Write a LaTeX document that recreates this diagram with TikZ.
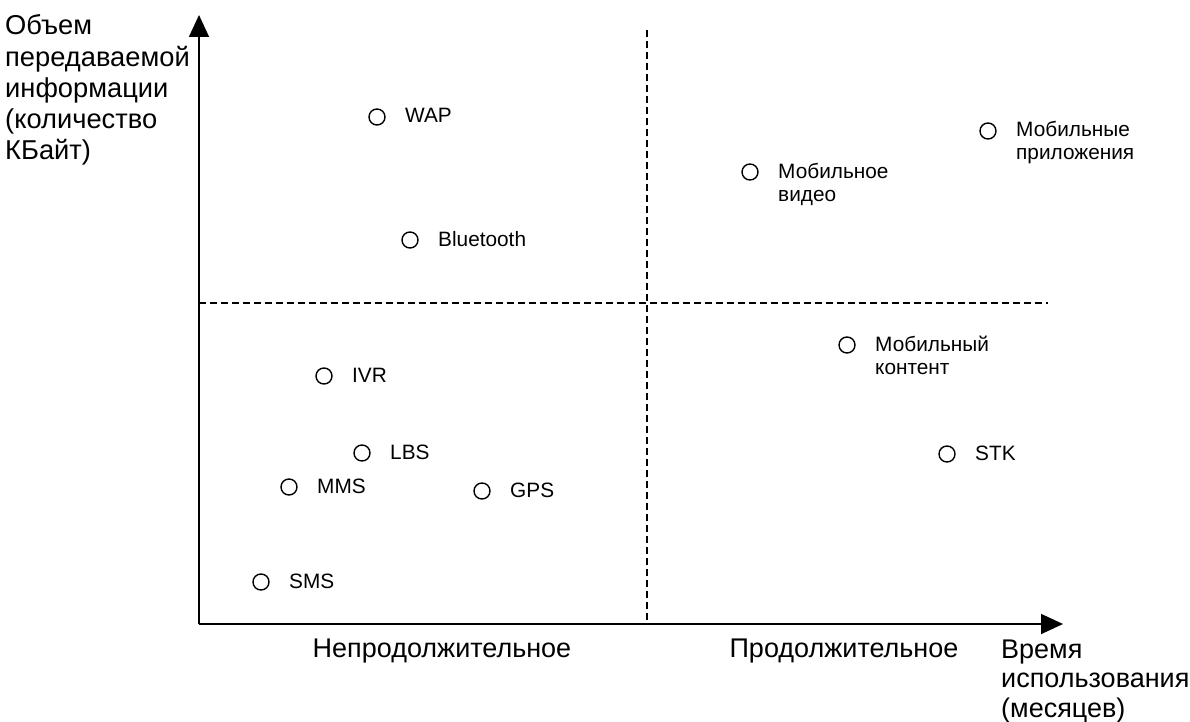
\documentclass[tikz,border=0pt]{standalone}
\usepackage{fontspec}
\setmainfont{Liberation Sans}
\usetikzlibrary{arrows.meta,calc}
\begin{document}
\begin{tikzpicture}[x=1pt,y=-1pt,
  pt/.style={circle,draw,line width=1.4pt,minimum size=16pt,inner sep=0pt},
  lbl/.style={font=\fontsize{20.8}{23}\selectfont,anchor=base west,align=left,inner sep=0pt},
  axlbl/.style={font=\fontsize{27}{31}\selectfont,inner sep=0pt},
  axis/.style={line width=1.6pt,-{Triangle[length=22pt,width=20pt]}},
  divider/.style={line width=1.2pt,dash pattern=on 7pt off 4pt}]
\useasboundingbox (0,0) rectangle (1190,722);
\coordinate (O) at (199,624);
\coordinate (Xend) at (1063,624);
\coordinate (Yend) at (199,15);
\coordinate (vtop) at (647,30);
\coordinate (vbot) at (647,624);
\coordinate (hl) at (199,303);
\coordinate (hr) at (1048,303);
\draw[divider] (vtop) -- (vbot);
\draw[divider] (hl) -- (hr);
\draw[axis] (O) -- (Xend);
\draw[axis] (O) -- (Yend);
% points
\node[pt] (wap) at (377,117) {};
\node[pt] (bt) at (410,240) {};
\node[pt] (ivr) at (324,376) {};
\node[pt] (lbs) at (362,453) {};
\node[pt] (mms) at (289,487) {};
\node[pt] (gps) at (482,491) {};
\node[pt] (sms) at (261,582) {};
\node[pt] (vid) at (750,172) {};
\node[pt] (app) at (988,131) {};
\node[pt] (cnt) at (847,345) {};
\node[pt] (stk) at (947,454) {};
\node[lbl] (wapL) at ($(wap)+(28,6)$) {WAP};
\node[lbl] (btL) at ($(bt)+(28,6)$) {Bluetooth};
\node[lbl] (ivrL) at ($(ivr)+(28,6)$) {IVR};
\node[lbl] (lbsL) at ($(lbs)+(28,6)$) {LBS};
\node[lbl] (mmsL) at ($(mms)+(28,6)$) {MMS};
\node[lbl] (gpsL) at ($(gps)+(28,6)$) {GPS};
\node[lbl] (smsL) at ($(sms)+(28,6)$) {SMS};
\node[lbl] (vidL) at ($(vid)+(28,29)$) {Мобильное\\видео};
\node[lbl] (appL) at ($(app)+(28,29)$) {Мобильные\\приложения};
\node[lbl] (cntL) at ($(cnt)+(28,29)$) {Мобильный\\контент};
\node[lbl] (stkL) at ($(stk)+(28,6)$) {STK};
% axis labels (base anchor = baseline of last line)
\node[axlbl,anchor=base west,align=left,font=\fontsize{27.3}{31.3}\selectfont] (ylab) at (5,160) {Объем\\передаваемой\\информации\\(количество\\КБайт)};
\node[axlbl,anchor=base] (short) at (442,657) {Непродолжительное};
\node[axlbl,anchor=base] (long) at (844,657) {Продолжительное};
\node[axlbl,anchor=base west,align=left,font=\fontsize{27}{29.5}\selectfont] (xlab) at (1001,717) {Время\\использования\\(месяцев)};
\end{tikzpicture}
\end{document}
